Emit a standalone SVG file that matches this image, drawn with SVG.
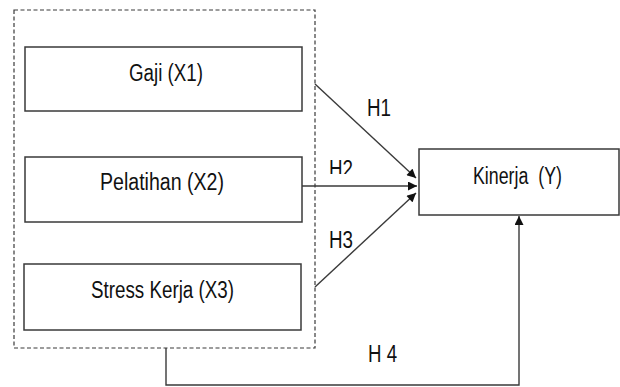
<svg xmlns="http://www.w3.org/2000/svg" width="620" height="387" viewBox="0 0 620 387">
  <style>
    .box { fill: #ffffff; stroke: #3a3a3a; stroke-width: 1.5; }
    .group { fill: none; stroke: #3a3a3a; stroke-width: 1.2; stroke-dasharray: 4 2.5; }
    .link { fill: none; stroke: #3a3a3a; stroke-width: 1.4; }
    .lbl { font-family: "Liberation Sans", Arial, sans-serif; font-size: 23px; fill: #111111; }
  </style>
  <defs>
    <marker id="arrow" viewBox="0 0 10 10" refX="10" refY="5" markerWidth="10" markerHeight="9" markerUnits="userSpaceOnUse" orient="auto">
      <path d="M0,0 L10,5 L0,10 z" fill="#111111"/>
    </marker>
    <clipPath id="h2clip">
      <rect x="320" y="150" width="50" height="24"/>
    </clipPath>
  </defs>
  <rect width="620" height="387" fill="#ffffff"/>

  <!-- dashed frame around the independent variables -->
  <rect id="independent-group" class="group" x="14" y="10" width="301" height="338"/>

  <g id="gaji">
    <rect class="box" x="25" y="47" width="277" height="64"/>
    <text class="lbl" x="129" y="81" textLength="74" lengthAdjust="spacingAndGlyphs">Gaji (X1)</text>
  </g>

  <g id="pelatihan">
    <rect class="box" x="25" y="157" width="277" height="65"/>
    <text class="lbl" x="100" y="190" textLength="124" lengthAdjust="spacingAndGlyphs">Pelatihan (X2)</text>
  </g>

  <g id="stress-kerja">
    <rect class="box" x="24" y="264" width="277" height="66"/>
    <text class="lbl" x="91" y="298" textLength="143" lengthAdjust="spacingAndGlyphs">Stress Kerja (X3)</text>
  </g>

  <g id="kinerja">
    <rect class="box" x="419" y="149" width="200" height="66"/>
    <text class="lbl" x="473" y="184" textLength="89" lengthAdjust="spacingAndGlyphs" xml:space="preserve">Kinerja  (Y)</text>
  </g>

  <g id="connectors">
    <line class="link" x1="315" y1="84" x2="416" y2="178" marker-end="url(#arrow)"/>
    <line class="link" x1="302" y1="186" x2="417" y2="186" marker-end="url(#arrow)"/>
    <line class="link" x1="315" y1="287" x2="416" y2="193" marker-end="url(#arrow)"/>
    <polyline class="link" points="166,348 166,385 519,385 519,216" marker-end="url(#arrow)"/>
  </g>

  <g id="labels">
    <text class="lbl" x="367" y="116" textLength="24" lengthAdjust="spacingAndGlyphs">H1</text>
    <text class="lbl" x="329" y="177" textLength="24" lengthAdjust="spacingAndGlyphs" clip-path="url(#h2clip)">H2</text>
    <text class="lbl" x="329" y="248" textLength="24" lengthAdjust="spacingAndGlyphs">H3</text>
    <text class="lbl" x="368" y="362" textLength="29" lengthAdjust="spacingAndGlyphs">H 4</text>
  </g>
</svg>
